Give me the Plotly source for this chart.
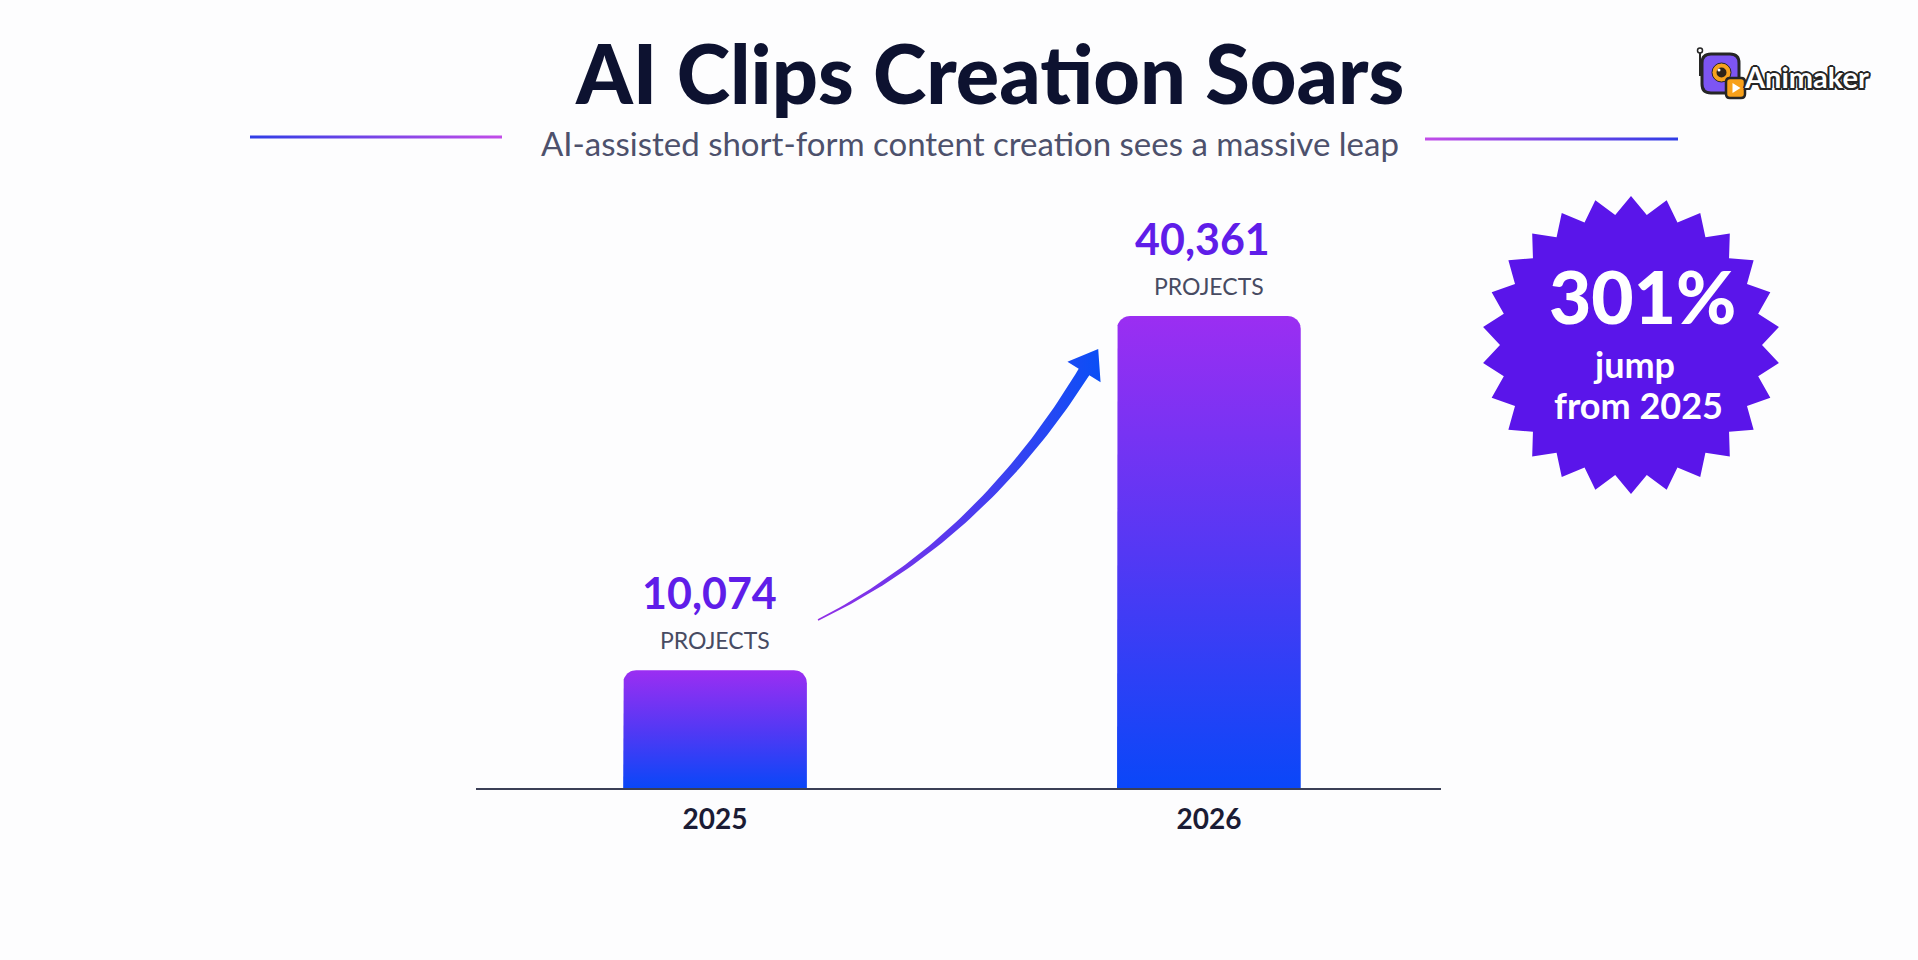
import numpy as np
import plotly.graph_objects as go

# ---------------- data ----------------
years = ["2025", "2026"]
projects = [10074, 40361]
value_labels = ["10,074", "40,361"]
unit_label = "PROJECTS"
title_text = "AI Clips Creation Soars"
subtitle_text = "AI-assisted short-form content creation sees a massive leap"
badge_value = "301%"
badge_lines = ["jump", "from 2025"]
brand = "Animaker"

# ---------------- layout constants (px) ----------------
W, H = 1918, 960
PLOT_L, PLOT_R = 476, 1441
PLOT_T, PLOT_B = 150, 788
TALLEST_TOP = 316
BAR_W = 0.372
X_RANGE = [-0.484, 1.470]
FONT = "Lato"

ymax = max(projects) * (PLOT_B - PLOT_T) / (PLOT_B - TALLEST_TOP)
px_per_x = (PLOT_R - PLOT_L) / (X_RANGE[1] - X_RANGE[0])
px_per_y = (PLOT_B - PLOT_T) / ymax

BAR_SCALE = [[0, "#0a47f8"], [0.5, "#5438f4"], [1, "#9b2ef2"]]


def bar_outline(xc, h, r_px=13, n=12):
    hw = BAR_W / 2
    rx = r_px / px_per_x
    ry = r_px / px_per_y
    xs = [xc - hw]
    ys = [0.0]
    a = np.linspace(np.pi, np.pi / 2, n)
    xs += list(xc - hw + rx + rx * np.cos(a))
    ys += list(h - ry + ry * np.sin(a))
    a = np.linspace(np.pi / 2, 0, n)
    xs += list(xc + hw - rx + rx * np.cos(a))
    ys += list(h - ry + ry * np.sin(a))
    xs += [xc + hw, xc - hw]
    ys += [0.0, 0.0]
    return xs, ys


fig = go.Figure()

# bars (gradient filled, rounded top corners) drawn from data on the xy axes
for i, (yr, v) in enumerate(zip(years, projects)):
    xs, ys = bar_outline(i, v)
    fig.add_trace(go.Scatter(
        x=xs, y=ys, mode="lines", fill="toself", line=dict(width=0),
        fillgradient=dict(type="vertical", colorscale=BAR_SCALE),
        name=yr, hoverinfo="skip", showlegend=False, xaxis="x", yaxis="y"))

# ---------------- decorations on full-page pixel axes ----------------
def rect_poly(x0, x1, yc, th):
    return [x0, x1, x1, x0, x0], [yc - th / 2, yc - th / 2, yc + th / 2, yc + th / 2, yc - th / 2]

BLUE_L = "#2f3de6"
MAG = "#c24ce8"
lx, ly = rect_poly(250, 502, 137, 3)
fig.add_trace(go.Scatter(x=lx, y=ly, mode="lines", fill="toself", line=dict(width=0),
                         fillgradient=dict(type="horizontal", colorscale=[[0, BLUE_L], [1, MAG]]),
                         hoverinfo="skip", showlegend=False, xaxis="x2", yaxis="y2"))
rx_, ry_ = rect_poly(1425, 1678, 139, 3)
fig.add_trace(go.Scatter(x=rx_, y=ry_, mode="lines", fill="toself", line=dict(width=0),
                         fillgradient=dict(type="horizontal", colorscale=[[0, MAG], [1, BLUE_L]]),
                         hoverinfo="skip", showlegend=False, xaxis="x2", yaxis="y2"))

# curved tapered arrow
P0 = np.array([818.0, 620.0])
P1 = np.array([980.0, 540.0])
P2 = np.array([1084.0, 372.0])
t = np.linspace(0, 1, 60)
B = ((1 - t) ** 2)[:, None] * P0 + (2 * (1 - t) * t)[:, None] * P1 + (t ** 2)[:, None] * P2
T = (2 * (1 - t))[:, None] * (P1 - P0) + (2 * t)[:, None] * (P2 - P1)
T = T / np.linalg.norm(T, axis=1)[:, None]
N = np.stack([-T[:, 1], T[:, 0]], axis=1)
wdt = 1.5 + 11.0 * t
left = B + (wdt / 2)[:, None] * N
right = B - (wdt / 2)[:, None] * N
d_end = T[-1]
n_end = N[-1]
tip = P2 + 27 * d_end
c1 = P2 + 19.5 * n_end
c2 = P2 - 19.5 * n_end
poly = np.vstack([left, c1[None, :], tip[None, :], c2[None, :], right[::-1], left[:1]])
fig.add_trace(go.Scatter(x=poly[:, 0], y=poly[:, 1], mode="lines", fill="toself", line=dict(width=0),
                         fillgradient=dict(type="horizontal",
                                           colorscale=[[0, "#9330e6"], [0.45, "#5a38ee"], [1, "#0a4ff6"]]),
                         hoverinfo="skip", showlegend=False, xaxis="x2", yaxis="y2"))

# starburst badge
n_pts = 26
cx, cy, R_out, R_in = 1631, 345, 149, 131
ang = -np.pi / 2 + np.arange(2 * n_pts) * np.pi / n_pts
rad = np.where(np.arange(2 * n_pts) % 2 == 0, R_out, R_in)
sx = cx + rad * np.cos(ang)
sy = cy + rad * np.sin(ang)
fig.add_trace(go.Scatter(x=np.append(sx, sx[0]), y=np.append(sy, sy[0]), mode="lines", fill="toself",
                         fillcolor="#5a15ea", line=dict(width=0), hoverinfo="skip",
                         showlegend=False, xaxis="x2", yaxis="y2"))

# ---------------- logo shapes ----------------
def rrect(x0, y0, x1, y1, r):
    return (f"M {x0+r},{y0} L {x1-r},{y0} Q {x1},{y0} {x1},{y0+r} L {x1},{y1-r} "
            f"Q {x1},{y1} {x1-r},{y1} L {x0+r},{y1} Q {x0},{y1} {x0},{y1-r} "
            f"L {x0},{y0+r} Q {x0},{y0} {x0+r},{y0} Z")

DARK = "#262626"
shapes = [
    dict(type="line", x0=1700, y0=52, x1=1700, y1=76, line=dict(color=DARK, width=2)),
    dict(type="circle", x0=1697.5, y0=48, x1=1702.5, y1=53, line=dict(color=DARK, width=1.5), fillcolor="white"),
    dict(type="path", path=rrect(1702, 54, 1739, 93, 9), fillcolor="#7d55f3", line=dict(color=DARK, width=3)),
    dict(type="circle", x0=1712, y0=63, x1=1731, y1=82, fillcolor="#f6a21e", line=dict(color=DARK, width=1)),
    dict(type="circle", x0=1716.5, y0=67.5, x1=1726.5, y1=77.5, fillcolor="#2d2418", line=dict(width=0)),
    dict(type="circle", x0=1717.5, y0=68.5, x1=1720.5, y1=71.5, fillcolor="white", line=dict(width=0)),
    dict(type="path", path=rrect(1726, 78, 1745, 98, 4), fillcolor="#f7a01a", line=dict(color=DARK, width=2.5)),
    dict(type="path", path="M 1732.5,83 L 1732.5,93 L 1740.5,88 Z", fillcolor="white", line=dict(width=0)),
]
for s in shapes:
    s.update(xref="x2", yref="y2", layer="above")

# ---------------- text ----------------
ann = []
ann.append(dict(x=989, y=72, text=title_text, showarrow=False, xref="x2", yref="y2",
                xanchor="center", yanchor="middle",
                font=dict(family=FONT, size=81, color="#0d1230", weight=900)))
ann.append(dict(x=970, y=143, text=subtitle_text, showarrow=False, xref="x2", yref="y2",
                xanchor="center", yanchor="middle",
                font=dict(family=FONT, size=33, color="#4d516c")))
for i, v in enumerate(projects):
    ann.append(dict(x=i, y=v, xref="x", yref="y", text=value_labels[i], showarrow=False,
                    xanchor="center", yanchor="middle", yshift=78, xshift=-6,
                    font=dict(family=FONT, size=43, color="#5f1de9", weight="bold")))
    ann.append(dict(x=i, y=v, xref="x", yref="y", text=unit_label, showarrow=False,
                    xanchor="center", yanchor="middle", yshift=30,
                    font=dict(family=FONT, size=23, color="#474b62")))
ann.append(dict(x=1642, y=296, text=badge_value, showarrow=False, xref="x2", yref="y2",
                xanchor="center", yanchor="middle",
                font=dict(family=FONT, size=73, color="white", weight=900)))
ann.append(dict(x=1634, y=364, text=badge_lines[0], showarrow=False, xref="x2", yref="y2",
                xanchor="center", yanchor="middle",
                font=dict(family=FONT, size=36, color="white", weight="bold")))
ann.append(dict(x=1638, y=405, text=badge_lines[1], showarrow=False, xref="x2", yref="y2",
                xanchor="center", yanchor="middle",
                font=dict(family=FONT, size=36, color="white", weight="bold")))
outline = ", ".join(f"{dx}px {dy}px 0 {DARK}" for dx, dy in
                    [(2, 0), (-2, 0), (0, 2), (0, -2), (1.5, 1.5), (-1.5, -1.5), (1.5, -1.5), (-1.5, 1.5)])
ann.append(dict(x=1806, y=76, text=brand, showarrow=False, xref="x2", yref="y2",
                xanchor="center", yanchor="middle",
                font=dict(family=FONT, size=29, color="white", weight="bold", shadow=outline)))

fig.update_layout(
    width=W, height=H, autosize=False,
    margin=dict(l=0, r=0, t=0, b=0),
    paper_bgcolor="#fdfdfe", plot_bgcolor="rgba(0,0,0,0)",
    showlegend=False,
    xaxis=dict(domain=[PLOT_L / W, PLOT_R / W], range=X_RANGE, tickvals=[0, 1], ticktext=years,
               showgrid=False, zeroline=False, showline=True, linecolor="#3b3f56", linewidth=2,
               ticks="", ticklabelstandoff=5, fixedrange=True,
               tickfont=dict(family=FONT, size=28, color="#1b1c35", weight="bold")),
    yaxis=dict(domain=[1 - PLOT_B / H, 1 - PLOT_T / H], range=[0, ymax], visible=False, fixedrange=True),
    xaxis2=dict(domain=[0, 1], range=[0, W], visible=False, anchor="y2", fixedrange=True),
    yaxis2=dict(domain=[0, 1], range=[H, 0], visible=False, anchor="x2", fixedrange=True),
    shapes=shapes,
    annotations=ann,
)

fig.write_html("out.html", config={"displayModeBar": False},
               post_script="document.body.style.margin='0';document.body.style.overflow='hidden';")
